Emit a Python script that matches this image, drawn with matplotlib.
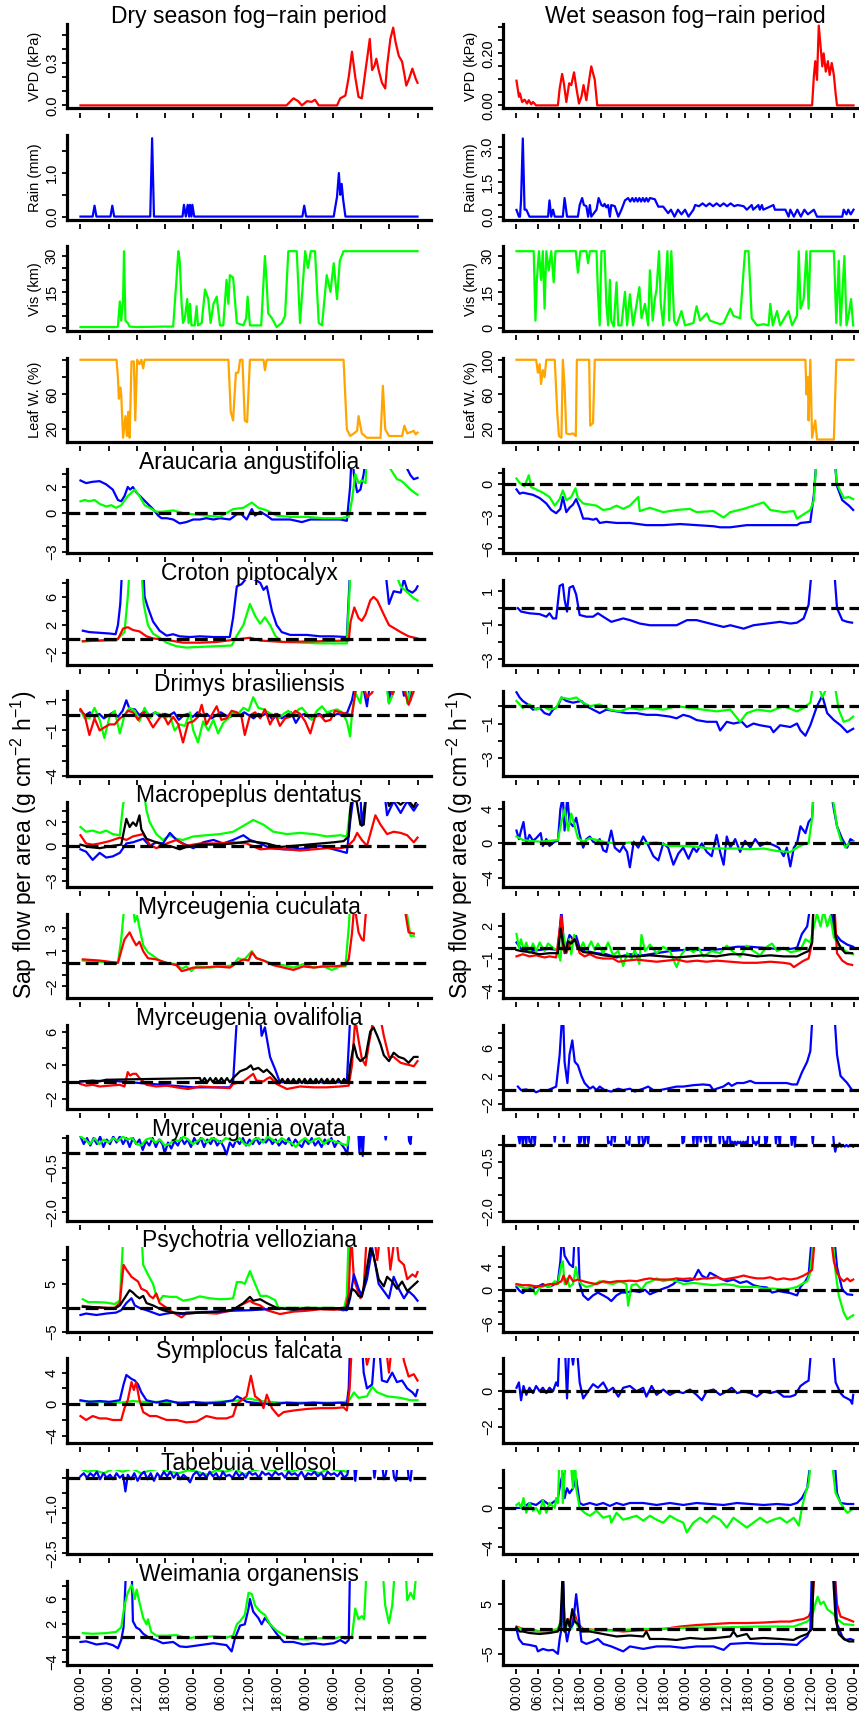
import matplotlib
matplotlib.use('Agg')
import matplotlib.pyplot as plt
import numpy as np

plt.rcParams['font.family'] = ['Liberation Sans', 'DejaVu Sans']
plt.rcParams['mathtext.fontset'] = 'custom'
plt.rcParams['mathtext.rm'] = 'Liberation Sans'
plt.rcParams['mathtext.it'] = 'Liberation Sans:italic'

RED = '#FF0000'
BLUE = '#0000FF'
GREEN = '#00FF00'
BLACK = '#000000'
ORANGE = '#FFA500'

# (hour, value) pairs; dry period spans 72 h, wet period 96 h
dry_vpd = [(0, 0), (44, 0), (45.5, 0.05), (46.5, 0.03), (47.3, 0.0), (48.4, 0.03), (49.4, 0.025), (50.1, 0.04),
           (50.9, 0.0), (54.8, 0.0), (55.5, 0.05), (56.6, 0.07), (57.3, 0.2), (58.0, 0.38), (58.7, 0.2), (59.4, 0.06),
           (60.1, 0.05), (60.9, 0.25), (61.8, 0.47), (62.3, 0.25), (62.8, 0.28), (63.2, 0.33), (63.7, 0.25),
           (64.4, 0.16), (65.1, 0.12), (65.5, 0.28), (66.2, 0.47), (66.8, 0.55), (67.3, 0.45), (68.0, 0.35),
           (68.7, 0.31), (69.2, 0.22), (69.6, 0.14), (70.1, 0.18), (70.9, 0.26), (71.6, 0.19), (72, 0.16)]
dry_rain = [(0, 0), (2.6, 0), (3.0, 0.25), (3.4, 0), (6.4, 0), (6.8, 0.25), (7.2, 0), (14.9, 0), (15.3, 1.8), (15.7, 0),
            (21.8, 0), (22.1, 0.27), (22.5, 0), (22.9, 0.27), (23.2, 0), (23.4, 0.27), (23.7, 0), (23.9, 0.27),
            (24.3, 0), (47.4, 0), (47.8, 0.25), (48.2, 0), (54.1, 0), (54.4, 0.2), (54.8, 0.45), (55.2, 1.0),
            (55.5, 0.5), (55.8, 0.75), (56.1, 0.4), (56.6, 0), (72, 0)]
dry_vis = [(0, 0.3), (7.6, 0.3), (8.0, 0.5), (8.4, 11), (8.7, 3), (9.1, 12), (9.3, 32), (9.6, 3), (10.1, 2), (10.5, 0.5),
           (12, 0.3), (17.6, 0.5), (19.8, 0.5), (20.5, 20), (20.9, 32), (21.2, 28), (21.6, 10), (21.9, 2), (22.3, 4),
           (22.8, 12), (23.1, 2), (23.4, 10), (23.7, 1), (24.4, 1), (24.8, 9), (25.1, 1), (25.9, 2), (26.6, 16),
           (27.3, 12), (27.8, 2), (28.4, 10), (29.1, 13), (29.8, 1), (30.5, 1), (31.2, 20), (31.6, 10), (31.9, 22),
           (32.6, 21), (33.4, 2), (34.8, 1), (35.4, 4), (35.7, 13), (36.2, 1), (38.6, 1), (39.4, 30), (39.8, 18),
           (40.1, 6), (40.9, 4), (41.9, 0.3), (43.0, 2), (43.7, 5), (44.4, 32), (46.2, 32), (46.9, 2), (48.0, 32),
           (48.6, 25), (49.2, 32), (50.1, 32), (50.9, 2), (51.6, 1), (52.6, 22), (53.4, 15), (54.1, 27), (54.8, 12),
           (55.4, 28), (56.2, 32), (72, 32)]
dry_leaf = [(0, 100), (7.7, 100), (8.0, 80), (8.2, 55), (8.5, 68), (8.7, 60), (9.1, 10), (9.6, 35), (9.9, 12), (10.2, 40),
            (10.5, 10), (10.9, 98), (11.4, 98), (11.7, 30), (12.1, 100), (12.6, 95), (13.0, 100), (13.4, 90),
            (13.7, 100), (31.6, 100), (32.1, 40), (32.6, 30), (33.2, 85), (33.7, 85), (34.1, 100), (34.6, 100),
            (35.1, 30), (35.6, 28), (36.2, 100), (39.1, 100), (39.4, 88), (39.8, 100), (56.2, 100), (56.9, 20),
            (57.6, 12), (58.4, 15), (59.1, 18), (59.4, 35), (60.1, 15), (61.2, 10), (64.1, 10), (64.6, 70),
            (65.1, 20), (65.9, 12), (68.7, 12), (69.2, 24), (69.8, 15), (71.2, 18), (71.6, 14), (72, 16)]

wet_vpd = [(0, 0.095), (0.7, 0.033), (1.0, 0.046), (1.6, 0.013), (2.3, 0.022), (3.0, 0.007), (3.5, 0.02), (4.2, 0.004),
           (4.7, 0.013), (5.6, 0), (11.8, 0), (12.3, 0.065), (13.0, 0.121), (13.5, 0.085), (14.2, 0.013), (15.0, 0.085),
           (15.6, 0.078), (16.4, 0.127), (17.0, 0.072), (17.8, 0.007), (18.5, 0.033), (19.1, 0.078), (19.9, 0.02),
           (20.7, 0.098), (21.3, 0.15), (22.3, 0.098), (23.0, 0), (84.2, 0), (84.7, 0.111), (85.1, 0.17),
           (85.6, 0.098), (86.1, 0.307), (86.6, 0.23), (87.1, 0.15), (87.5, 0.2), (88.1, 0.13), (88.7, 0.17),
           (89.2, 0.117), (89.8, 0.163), (90.4, 0.117), (90.9, 0.046), (91.3, 0), (96, 0)]
wet_rain = [(0, 0.29), (0.7, 0), (1.0, 0), (1.3, 0.7), (1.8, 3.36), (2.3, 0.3), (2.8, 0.3), (3.7, 0), (9.0, 0), (9.4, 0.7),
            (9.9, 0), (10.4, 0.3), (10.9, 0), (13.2, 0), (13.7, 0.8), (14.4, 0), (17.5, 0), (18.0, 0.5), (18.7, 0.8),
            (19.2, 0.5), (19.9, 0.45), (20.4, 0), (20.9, 0.5), (21.3, 0), (22.8, 0.3), (23.4, 0.8), (24.2, 0.5),
            (24.7, 0.45), (25.1, 0.55), (25.6, 0.4), (26.1, 0.5), (26.6, 0), (27.0, 0.5), (28.0, 0.45), (29.0, 0),
            (29.9, 0.3), (30.9, 0.7), (31.8, 0.8), (32.4, 0.65), (33, 0.8), (33.5, 0.65), (34, 0.8), (34.5, 0.65),
            (35, 0.8), (35.5, 0.65), (36, 0.8), (36.5, 0.65), (37, 0.8), (37.5, 0.65), (38, 0.8), (39.4, 0.75),
            (40.4, 0.43), (41.8, 0.43), (43.2, 0.15), (44, 0.3), (45, 0), (46, 0.3), (47, 0.1), (48, 0.3), (49, 0),
            (50.4, 0.3), (50.9, 0.5), (52, 0.45), (53, 0.57), (54, 0.45), (55, 0.57), (56, 0.45), (57, 0.57),
            (58, 0.45), (59, 0.57), (60, 0.45), (61, 0.57), (62, 0.45), (63, 0.5), (64.7, 0.45), (65.6, 0.3),
            (67, 0.5), (67.4, 0.3), (68.9, 0.5), (69.3, 0.3), (69.9, 0.5), (70.3, 0.3), (73.2, 0.5), (73.6, 0.3),
            (76.6, 0.3), (77.5, 0), (78, 0.3), (79, 0), (80, 0.3), (81, 0), (82, 0.3), (83, 0.1), (84.7, 0.3),
            (85.6, 0), (92.8, 0), (93.2, 0.3), (94, 0.1), (94.5, 0.3), (95.2, 0.1), (96, 0.3)]
wet_vis = [(0, 32), (4.9, 32), (5.4, 3), (5.8, 20), (6.4, 32), (7.0, 20), (7.5, 32), (8.0, 8), (8.5, 32), (9.2, 24),
           (9.9, 32), (10.6, 19), (11.1, 32), (16.9, 32), (17.5, 23), (18.2, 32), (19.9, 32), (20.4, 27), (20.9, 32),
           (22.8, 32), (23.2, 15), (23.7, 1), (24.2, 32), (25.1, 32), (25.6, 10), (26.1, 1), (26.6, 20), (27.0, 3),
           (27.7, 0.5), (28.5, 19), (29.0, 1), (29.9, 1), (30.9, 15), (31.5, 1), (32.3, 14), (33.2, 1), (34.0, 8),
           (35.0, 17), (35.6, 4), (36.6, 10), (37.5, 1), (38.0, 24), (38.8, 3), (39.4, 12), (39.9, 16), (40.6, 32),
           (41.1, 10), (41.8, 1), (43.0, 32), (43.5, 3), (44.1, 32), (44.9, 3), (45.6, 1), (47.0, 7), (48.0, 1),
           (50.4, 2), (51.3, 9), (52.3, 3), (54.2, 6), (55.1, 3), (58.0, 1.5), (59.0, 2), (60.9, 8), (61.8, 5),
           (63.7, 4), (65.1, 32), (66.1, 32), (67.0, 4), (68.5, 1), (70.4, 1.5), (71.8, 1), (72.3, 10), (73.0, 1),
           (74.2, 7), (75.1, 1), (77.5, 7), (78.5, 1), (79.9, 5), (80.4, 32), (80.9, 8), (81.8, 12), (82.6, 32),
           (83.2, 8), (83.7, 32), (90.4, 32), (91.1, 2), (91.8, 28), (92.3, 1), (93.4, 30), (94.0, 1), (94.7, 6),
           (95.3, 12), (95.9, 1)]
wet_leaf = [(0, 100), (5.6, 100), (6.1, 85), (6.6, 95), (7.0, 72), (7.5, 88), (8.0, 80), (8.5, 100), (10.9, 100),
            (11.6, 40), (12.1, 12), (12.8, 10), (13.2, 100), (13.7, 70), (14.2, 15), (15.1, 14), (16.1, 15),
            (16.9, 12), (17.2, 100), (20.7, 100), (21.0, 24), (21.8, 27), (22.3, 100), (82.3, 100), (82.6, 60),
            (83.0, 80), (83.2, 30), (83.7, 100), (84.2, 10), (85.1, 30), (85.6, 8), (90.4, 8), (91.1, 100), (96, 100)]

# Araucaria angustifolia
dry_arau_blue = [(0, 2.5), (1.2, 2.3), (2.6, 2.4), (4.1, 2.45), (5.5, 2.2), (6.9, 1.8), (8.0, 1.0), (8.7, 0.9), (9.4, 1.3),
                 (10.1, 2.0), (10.6, 1.8), (11.2, 2.0), (11.9, 1.6), (13.0, 1.2), (14.1, 0.8), (15.5, 0.3), (16.6, -0.2),
                 (17.3, -0.4), (18.4, -0.4), (19.8, -0.5), (21.2, -0.8), (22.6, -0.7), (24.1, -0.5), (25.5, -0.5),
                 (26.9, -0.4), (28.4, -0.5), (29.8, -0.4), (31.9, -0.5), (33.4, -0.1), (34.4, -0.1), (35.5, -0.5),
                 (36.6, 0.3), (37.3, -0.2), (38.4, 0.1), (39.8, -0.2), (40.9, -0.5), (42.6, -0.5), (44.8, -0.5),
                 (47.3, -0.7), (49.1, -0.5), (51.2, -0.5), (53.4, -0.5), (55.5, -0.5), (56.9, -0.6), (57.6, 2.0),
                 (58.0, 5), (58.4, 3.0), (59.1, 1.6), (59.8, 1.8), (60.5, 3.0), (61.2, 5), (69.4, 5), (69.8, 3.4),
                 (70.5, 2.9), (71.2, 2.6), (72, 2.7)]
dry_arau_green = [(0, 0.9), (0.9, 1.0), (1.9, 0.9), (3.0, 1.0), (4.1, 0.7), (5.5, 0.5), (6.6, 0.6), (7.6, 0.4), (8.7, 0.6),
                  (10.1, 1.3), (11.6, 1.8), (12.6, 1.3), (13.7, 0.6), (14.8, 0.4), (16.2, 0.1), (17.6, 0.1), (19.8, 0.2),
                  (21.9, 0.0), (24.1, -0.1), (26.9, -0.2), (29.8, -0.3), (32.6, 0.3), (34.8, 0.4), (36.6, 0.8),
                  (38.0, 0.4), (39.8, 0.2), (41.9, -0.2), (44.8, -0.3), (48.4, -0.3), (51.9, -0.4), (55.5, -0.4),
                  (57.3, -0.3), (58.0, 1.0), (58.7, 3.0), (59.4, 2.3), (60.1, 2.5), (60.9, 2.3), (61.2, 5), (66.0, 5),
                  (66.2, 3.4), (67.6, 2.6), (68.4, 2.5), (69.1, 2.3), (70.5, 1.8), (71.6, 1.5), (72, 1.4)]
wet_arau_blue = [(0, -0.5), (0.9, -0.9), (1.8, -0.8), (3.2, -0.9), (4.7, -1.0), (6.6, -1.3), (8.5, -1.8), (9.9, -2.4),
                 (11.3, -2.7), (12.5, -2.3), (13.2, -1.2), (14.2, -2.6), (15.1, -2.2), (16.1, -1.9), (17.0, -1.4),
                 (18.0, -2.2), (19.0, -3.2), (20.4, -3.2), (21.8, -3.3), (22.8, -3.2), (23.7, -3.6), (25.6, -3.5),
                 (28.5, -3.6), (32.3, -3.6), (37.0, -3.8), (41.8, -3.8), (46.6, -3.7), (51.3, -3.8), (56.1, -3.9),
                 (58.0, -4.0), (60.9, -4.0), (65.6, -3.8), (70.4, -3.8), (75.1, -3.8), (79.9, -3.8), (80.9, -3.6),
                 (83.7, -3.5), (84.7, -1.0), (85.6, 3), (90.4, 3), (91.3, -0.2), (92.8, -1.5), (94.7, -2.0), (95.9, -2.4)]
wet_arau_green = [(0, 0.5), (0.9, 0.1), (2.3, -0.2), (3.5, 0.8), (4.2, -0.3), (5.6, -0.5), (7.5, -0.8), (9.4, -1.2),
                  (10.9, -2.0), (12.3, -1.4), (13.2, -0.6), (14.2, -1.5), (15.6, -1.2), (16.8, -0.4), (17.5, -1.3),
                  (19.0, -1.8), (20.9, -1.9), (22.8, -2.0), (24.7, -2.4), (26.6, -2.3), (28.5, -2.0), (30.4, -2.3),
                  (32.3, -2.0), (34.7, -1.2), (35.1, -2.5), (38.0, -2.2), (41.8, -2.6), (45.6, -2.4), (49.4, -2.3),
                  (51.3, -2.6), (56.1, -2.5), (59.0, -3.1), (60.9, -2.6), (64.7, -2.3), (70.4, -1.7), (72.3, -2.4),
                  (76.1, -2.6), (79.0, -2.5), (79.9, -3.2), (81.8, -2.8), (83.7, -2.4), (84.7, -1.5), (85.6, 3),
                  (90.4, 3), (91.3, 0.0), (93.2, -1.3), (94.7, -1.2), (95.9, -1.4)]

# Croton piptocalyx
dry_crot_blue = [(0.5, 1.2), (1.9, 1.0), (4.1, 0.9), (6.2, 0.8), (7.5, 0.7), (8.0, 2), (8.5, 5), (8.9, 10), (13.4, 10),
                 (13.7, 6), (14.4, 4.5), (15.5, 2.5), (16.9, 1.2), (18.4, 0.5), (19.8, 0.7), (21.2, 0.4), (23.4, 0.3),
                 (25.5, 0.4), (28.4, 0.3), (31.9, 0.3), (32.6, 3), (33.4, 7.5), (34.4, 7.8), (35.9, 9), (38.4, 8),
                 (39.1, 7), (39.8, 7.5), (40.9, 4), (41.9, 2), (43.0, 1), (44.8, 0.6), (48.4, 0.6), (51.2, 0.4),
                 (53.9, 0.4), (56.9, 0.3), (57.6, 10), (65.1, 10), (65.9, 5), (66.9, 6.8), (68.4, 6.6), (69.1, 8.5),
                 (69.8, 7), (70.9, 6.6), (71.6, 7), (72, 7.5)]
dry_crot_green = [(0.5, -0.3), (4.1, -0.2), (7.6, -0.2), (9.4, 1.0), (10.1, 6), (10.5, 10), (13.0, 10), (13.5, 5),
                  (14.4, 2.0), (15.5, 0.8), (16.9, 0.2), (18.4, -0.5), (20.5, -1.0), (22.6, -1.2), (25.5, -1.1),
                  (29.1, -1.0), (32.3, -0.9), (33.4, 0.5), (34.8, 2.0), (36.2, 5.0), (37.3, 3.3), (38.4, 2.2),
                  (39.4, 3.1), (40.5, 2.0), (41.6, 0.5), (43.0, -0.4), (46.9, -0.5), (51.2, -0.6), (56.9, -0.6),
                  (57.7, 10), (66.9, 10), (68.4, 7.5), (70.1, 6.5), (71.2, 5.8), (72, 5.5)]
dry_crot_red = [(0.5, -0.3), (4.1, -0.2), (8.0, 0), (9.1, 1.5), (10.1, 1.7), (11.2, 1.3), (12.6, 1.1), (14.1, 0.4),
                (15.5, 0.1), (18.4, -0.1), (21.9, -0.5), (25.5, -0.5), (29.1, -0.4), (32.6, -0.1), (36.2, 0.2),
                (38.4, -0.2), (43.4, -0.4), (50.5, -0.3), (57.3, -0.2), (57.7, 2.5), (58.5, 4.5), (59.4, 3.0),
                (60.1, 2.6), (60.9, 3.5), (61.9, 5.5), (62.6, 6.0), (63.4, 5.5), (64.8, 3.5), (65.9, 2.0), (66.9, 1.6),
                (68.4, 1.0), (70.1, 0.4), (72, 0.1)]
wet_crot_blue = [(0.4, 0), (1.3, -0.2), (3.7, -0.3), (6.6, -0.35), (8.5, -0.5), (9.4, -0.3), (10.4, -0.6), (11.3, -0.6),
                 (12.3, 1.3), (13.2, 1.4), (13.7, 0.5), (14.4, -0.2), (15.1, 1.2), (16.1, 1.3), (17.0, 0.8),
                 (18.0, -0.4), (19.9, -0.5), (21.8, -0.5), (23.2, -0.3), (24.7, -0.5), (27.0, -0.8), (30.4, -0.6),
                 (32.3, -0.7), (35.1, -0.9), (38.0, -1.0), (41.8, -1.0), (45.6, -1.0), (48.6, -0.7), (51.3, -0.7),
                 (55.1, -0.9), (59.0, -1.1), (60.9, -1.0), (64.7, -1.2), (67.5, -1.0), (71.3, -0.9), (75.1, -0.8),
                 (78.0, -0.9), (79.9, -0.85), (81.8, -0.6), (83.2, 0.2), (84.2, 2.5), (90.4, 2.5), (91.3, 0.0),
                 (92.8, -0.7), (94.2, -0.8), (95.6, -0.85)]

# Drimys brasiliensis
dry_drim_blue = [(0, 0.3), (1, 0.0), (2, 0.2), (3, -0.1), (4, 0.1), (5, -0.2), (6, 0.0), (7, 0.2), (8, -0.1), (9, 0.3),
                 (9.8, 1.0), (10.5, 0.4), (11.6, 0.4), (12.6, 0.0), (13.7, 0.3), (14.8, 0.0), (16, 0.2), (17, -0.1),
                 (18, 0.1), (19, 0.0), (20, 0.2), (21, -0.3), (22, 0.0), (23, 0.1), (24, -0.1), (25, 0.2), (26, 0.0),
                 (27, 0.1), (28, -0.2), (29, 0.0), (30, 0.2), (31, 0.0), (32, -0.1), (33, 0.1), (34, 0.0), (35, 0.2),
                 (36, 0.0), (37, -0.2), (38, 0.1), (39, 0.0), (40, 0.2), (41, -0.3), (42, 0.1), (43, -0.2), (44, 0.0),
                 (45, 0.2), (46, -0.5), (47, 0.0), (48, 0.1), (49, -0.2), (50, 0.0), (51, 0.1), (52, -0.1), (53, 0.2),
                 (54, 0.0), (55, 0.1), (56, 0.0), (57, 0.2), (58, 1.0), (59, 2.5), (60, 2.5), (61.2, 0.6), (62, 2.5),
                 (65.5, 2.5), (65.9, 0.8), (66.5, 2.5), (68.5, 2.5), (69.1, 1.3), (69.8, 2.5), (70.5, 1.0), (71, 2.5),
                 (72, 2.5)]
dry_drim_green = [(0, 0.4), (0.9, -0.2), (1.9, -0.2), (3.0, 0.5), (4.1, -0.3), (5.1, -1.5), (6.2, -0.1), (7.3, 0.3),
                  (8.4, -1.2), (9.4, 0.0), (10.5, 0.5), (11.6, 0.3), (12.6, -0.4), (13.7, 0.5), (14.8, -0.2),
                  (15.9, 0.2), (16.9, 0.1), (18.0, -0.2), (19.1, 0.0), (20.1, -1.0), (21.2, -0.6), (22.3, -0.7),
                  (23.4, 0.2), (24.1, -1.0), (25.1, -1.8), (26.2, -0.4), (27.3, -1.0), (28.4, -0.3), (29.4, -1.2),
                  (30.5, -0.5), (31.6, -0.2), (32.6, 0.2), (33.7, 0.1), (34.8, 0.5), (35.9, 0.3), (36.9, 1.2),
                  (38.0, 0.5), (39.1, 0.4), (40.1, 0.2), (41.2, 0.0), (42.3, -0.2), (43.4, 0.1), (44.4, 0.3),
                  (45.5, 0.0), (46.6, 0.4), (47.3, 0.5), (48.4, 0.1), (49.4, -0.3), (50.5, 0.3), (51.6, 0.6),
                  (52.6, 0.2), (53.7, 0.3), (54.8, 0.4), (55.9, 0.2), (56.9, -0.4), (57.6, -1.4), (58.0, 0.1),
                  (58.7, 1.5), (59.8, 0.8), (60.5, 2.5), (65.1, 2.5), (65.9, 0.8), (66.9, 1.5), (67.5, 2.5), (69.4, 2.5),
                  (69.8, 0.8), (71.2, 2.5), (72, 2.5)]
dry_drim_red = [(0, 0.4), (0.9, 0.0), (1.9, -1.3), (3.0, -0.2), (4.1, -1.0), (5.1, -0.8), (6.2, -0.6), (7.3, -0.6),
                (8.4, -0.2), (9.4, 0.0), (10.1, 0.3), (11.2, 0.2), (12.3, -0.3), (13.4, 0.2), (14.4, -0.2),
                (15.5, -0.8), (16.6, -0.3), (17.6, 0.1), (18.7, -0.6), (19.8, -0.1), (20.9, -0.6), (21.9, -1.8),
                (23.0, -0.5), (24.1, -0.4), (25.1, -0.1), (25.9, 0.7), (26.9, -0.6), (28.0, 0.0), (29.1, 0.6),
                (30.1, -0.3), (31.2, -0.2), (32.3, 0.3), (33.4, 0.2), (34.4, -0.1), (35.1, -1.3), (36.2, 0.0),
                (37.3, 0.2), (38.4, -0.2), (39.4, 0.4), (40.5, -0.6), (41.6, 0.1), (42.6, -0.7), (43.7, -0.2),
                (44.8, -0.1), (45.9, 0.3), (46.9, 0.1), (48.0, -0.4), (49.1, -1.2), (50.1, -0.1), (51.2, 0.0),
                (52.3, -0.4), (53.4, -0.3), (54.4, 0.3), (55.5, 0.2), (56.9, 0.1), (58.0, 0.0), (58.7, 1.5),
                (59.8, 2.5), (61.2, 1.2), (62.3, 1.5), (63.4, 2.5), (65.5, 2.5), (66.6, 1.4), (68.4, 2.5), (70.1, 0.7),
                (71.2, 1.6), (72, 2.5)]
wet_drim_blue = [(0, 0.8), (0.9, 0.5), (1.8, 0.3), (3.2, 0.1), (4.7, -0.2), (6.6, -0.1), (8.0, -0.4), (9.4, -0.5),
                 (10.4, -0.2), (11.8, 0.0), (12.8, 0.5), (14.2, 0.3), (16.1, 0.2), (18.5, 0.3), (19.9, 0.0),
                 (21.8, -0.2), (23.7, -0.4), (25.6, -0.2), (28.5, -0.3), (31.3, -0.4), (34.2, -0.4), (37.0, -0.5),
                 (39.9, -0.5), (43.7, -0.6), (45.6, -0.7), (47.5, -0.5), (49.4, -0.6), (51.3, -0.8), (54.2, -0.9),
                 (57.0, -0.9), (58.0, -1.4), (59.9, -0.9), (61.8, -1.0), (64.2, -0.9), (65.6, -1.2), (67.5, -1.0),
                 (69.4, -1.1), (72.3, -1.2), (73.2, -1.5), (75.1, -1.1), (78.0, -1.2), (79.9, -1.0), (80.9, -1.4),
                 (82.3, -1.7), (83.7, -1.1), (85.6, 0.0), (87.1, 0.6), (88.5, -0.4), (90.4, -0.8), (92.3, -1.1),
                 (94.2, -1.5), (95.9, -1.3)]
wet_drim_green = [(0, 0.3), (1.8, -0.1), (3.7, 0.1), (5.6, -0.2), (7.5, 0.0), (9.4, -0.2), (11.3, -0.1), (12.8, 0.5),
                  (15.1, 0.4), (17.0, 0.5), (19.0, 0.2), (20.9, 0.0), (23.7, 0.1), (26.6, -0.2), (29.4, -0.3),
                  (32.3, -0.1), (35.1, -0.2), (38.0, -0.1), (41.8, -0.2), (45.6, 0.0), (49.4, -0.1), (53.2, -0.2),
                  (57.0, -0.3), (60.9, -0.2), (63.7, -0.9), (65.6, -0.4), (68.5, -0.2), (72.3, -0.3), (76.1, 0.0),
                  (79.9, -0.3), (81.8, -0.1), (83.7, 0.2), (84.7, 1.5), (85.6, 1.5), (87.1, 0.5), (89.4, 1.5),
                  (90.4, 1.5), (91.8, -0.2), (93.2, -0.9), (94.7, -0.8), (95.9, -0.6)]

# Macropeplus dentatus
dry_macr_green = [(0, 1.6), (1.2, 1.2), (2.6, 1.3), (4.1, 1.1), (5.5, 1.3), (6.9, 1.0), (8.4, 0.9), (9.1, 3.5), (9.8, 5),
                  (13.4, 5), (14.1, 3.0), (14.8, 2.0), (16.2, 1.0), (17.6, 0.5), (19.1, 0.9), (20.5, 0.6), (21.9, 0.5),
                  (24.1, 0.8), (26.9, 0.9), (29.8, 1.0), (32.6, 1.2), (34.8, 1.7), (36.9, 2.2), (39.1, 1.8),
                  (41.2, 1.2), (44.1, 1.0), (46.9, 1.1), (49.8, 1.0), (52.6, 0.8), (55.5, 0.9), (56.9, 0.8),
                  (57.6, 3.0), (58.0, 5), (72, 5)]
dry_macr_blue = [(0, -0.3), (1.2, -0.5), (2.6, -1.2), (4.1, -0.6), (5.5, -1.0), (6.9, -0.9), (8.4, -0.6), (9.8, 0.2),
                 (11.2, 0.3), (13.4, 0.6), (14.8, 0.0), (16.2, 0.3), (17.6, 0.2), (19.1, 1.1), (20.5, 0.5),
                 (21.9, 0.2), (24.1, -0.2), (26.2, 0.3), (28.4, 0.5), (30.5, 0.2), (32.6, 0.5), (34.8, 0.9),
                 (36.2, 0.5), (38.4, 0.2), (40.5, -0.2), (43.4, -0.3), (45.5, -0.3), (48.4, -0.2), (51.2, 0.0),
                 (54.1, -0.3), (56.9, -0.6), (57.6, 2), (58.4, 4.5), (59.8, 4.5), (60.1, 1.7), (61.2, 5), (64.8, 5),
                 (65.5, 2.6), (66.9, 3.8), (68.4, 2.8), (69.8, 3.8), (71.2, 3.0), (72, 3.5)]
dry_macr_red = [(0, 0.9), (1.2, 0.2), (2.6, 0.1), (4.1, 0.2), (6.2, 0.4), (8.4, 0.7), (9.8, 0.5), (11.2, 0.8), (13.4, 1.0),
                (14.8, 0.1), (16.2, -0.2), (18.4, 0.2), (20.5, 0.5), (22.6, 0.0), (25.5, 0.2), (29.1, 0.2),
                (32.6, 0.3), (35.5, 0.2), (38.4, -0.3), (41.2, -0.2), (44.1, -0.3), (46.9, -0.4), (49.8, -0.3),
                (52.6, -0.2), (55.5, -0.2), (56.9, -0.1), (58.4, 0.5), (59.1, 1.1), (60.1, 0.5), (61.2, 0.0),
                (61.9, 1.0), (63.0, 2.6), (64.1, 1.8), (65.5, 1.0), (66.9, 1.2), (68.4, 1.1), (69.8, 0.9),
                (71.2, 0.3), (72, 0.7)]
dry_macr_black = [(0, 0.1), (1.9, -0.1), (4.1, -0.2), (6.9, 0.0), (8.7, 0.1), (9.8, 2.3), (10.5, 1.6), (11.2, 2.0),
                  (11.9, 1.7), (12.6, 2.6), (13.0, 1.4), (14.1, 0.6), (15.5, 0.4), (17.6, 0.1), (19.8, -0.1),
                  (21.2, -0.3), (22.6, -0.1), (25.5, 0.1), (29.1, 0.1), (32.6, 0.2), (36.2, 0.4), (39.8, 0.2),
                  (42.6, -0.1), (45.5, 0.0), (48.4, 0.1), (51.2, 0.2), (54.1, 0.3), (56.2, 0.4), (57.3, 0.8),
                  (57.6, 3), (58.4, 5), (59.1, 3.5), (59.8, 1.8), (60.5, 1.8), (61.2, 5), (65.1, 5), (65.9, 3.4),
                  (66.9, 4), (68.4, 3.5), (69.8, 4), (71.2, 3.3), (72, 4)]
wet_macr_blue = [(0, 1.5), (0.7, 0.5), (1.3, 1.5), (2.0, 2.5), (2.8, 0.0), (3.7, 1.0), (4.7, 0.3), (5.6, 0.6), (6.9, 1.2),
                 (7.5, -0.3), (8.5, 0.5), (9.4, -0.3), (10.9, 0.2), (11.8, 0.3), (12.5, 4), (13.2, 5.5), (13.7, 1.5),
                 (14.5, 5.5), (15.1, 2.5), (16.1, 2.0), (17.0, 3.0), (18.0, 1.0), (19.0, -0.5), (19.9, 0.5), (20.9, 0.8),
                 (21.8, 0.2), (22.8, 0.0), (23.7, 0.5), (24.7, -0.8), (25.6, -1.0), (27.0, 1.5), (28.0, -0.5),
                 (29.4, -1.0), (30.4, -0.3), (31.5, -1.0), (32.3, -2.8), (33.4, 0.2), (34.7, -0.5), (36.1, 0.8),
                 (37.5, -0.2), (39.0, -1.5), (40.4, -2.0), (41.8, 0.0), (43.2, -0.5), (44.7, -2.5), (46.1, -1.2),
                 (47.5, -0.5), (49.0, -1.8), (50.4, -0.5), (51.3, -1.0), (52.8, 0.0), (54.2, -1.0), (55.6, -1.5),
                 (57.0, 1.0), (58.0, -1.0), (59.0, -2.5), (59.9, 0.8), (60.9, -0.5), (62.3, 0.5), (63.7, -1.0),
                 (65.1, 0.3), (66.6, -0.5), (68.0, 0.5), (69.4, -0.3), (71.3, 0.1), (73.2, -0.2), (74.7, -0.5),
                 (76.1, -1.5), (77.0, -0.5), (78.0, -2.7), (79.0, -0.5), (79.9, 0.0), (80.9, 2.0), (82.3, 1.2),
                 (83.2, 2.5), (84.2, 3.0), (84.7, 6.5), (89.4, 6.5), (90.4, 4.0), (91.3, 2.0), (92.8, 0.5),
                 (94.2, -0.5), (95.1, 0.5), (95.9, 0.3)]
wet_macr_green = [(0, 0.8), (1.8, 0.4), (3.7, 0.3), (6.6, 0.2), (9.4, 0.3), (11.8, 0.4), (12.8, 2.5), (13.7, 4.0),
                  (14.7, 1.5), (15.6, 3.5), (16.6, 2.0), (17.5, 0.6), (19.0, 0.2), (20.9, 0.6), (22.8, 0.4),
                  (25.6, 0.1), (29.4, 0.0), (32.3, 0.1), (36.1, 0.0), (39.9, 0.1), (43.7, -0.3), (47.5, -0.3),
                  (51.3, -0.4), (55.1, -0.6), (59.0, -0.6), (62.8, -0.6), (66.6, -0.7), (70.4, -0.6), (74.2, -0.9),
                  (78.0, -1.0), (79.9, -0.5), (81.8, -0.1), (83.2, 0.0), (84.2, 3.0), (84.7, 6.5), (89.4, 6.5),
                  (90.4, 4.5), (91.3, 2.0), (92.3, 0.5), (93.7, -0.5), (94.7, 0.0), (95.9, 0.2)]

# Myrceugenia cuculata
dry_cucu_green = [(0.5, 0.2), (4.1, 0.1), (8.0, 0.0), (8.7, 2.0), (9.4, 5), (11.2, 5), (11.6, 3.5), (12.1, 4.0),
                  (12.6, 3.0), (13.4, 1.5), (14.4, 0.9), (15.5, 0.6), (16.9, 0.2), (18.4, 0.0), (20.5, -0.1),
                  (21.6, -0.5), (22.6, -0.3), (23.7, -0.7), (24.8, -0.3), (27.6, -0.4), (30.5, -0.3), (32.6, -0.2),
                  (33.7, 0.4), (34.8, 0.2), (36.6, 1.0), (37.6, 0.4), (39.1, 0.2), (41.2, -0.1), (43.4, -0.2),
                  (45.5, -0.4), (47.6, -0.1), (49.8, -0.4), (51.9, -0.3), (53.7, -0.6), (55.5, -0.3), (56.6, -0.3),
                  (57.3, 3.0), (57.6, 5), (69.4, 5), (70.5, 2.3), (71.2, 2.3)]
dry_cucu_red = [(0.5, 0.3), (4.1, 0.2), (8.0, 0.0), (8.7, 1.0), (9.4, 2.0), (10.5, 2.6), (11.2, 2.0), (11.9, 1.5),
                (12.6, 1.8), (13.4, 1.0), (14.4, 0.4), (16.2, 0.3), (18.4, 0.0), (20.5, -0.2), (21.6, -0.7),
                (22.6, -0.6), (24.1, -0.4), (26.2, -0.4), (29.1, -0.3), (31.9, -0.4), (33.4, 0.0), (34.8, 0.3),
                (35.9, 0.2), (36.6, 0.9), (37.6, 0.4), (39.1, 0.2), (41.2, -0.2), (43.4, -0.4), (45.5, -0.6),
                (47.6, -0.3), (49.8, -0.4), (51.9, -0.3), (54.1, -0.3), (56.6, -0.2), (57.3, 0.3), (58.0, 2.5),
                (58.4, 4.5), (58.7, 4.5), (59.4, 2.6), (60.1, 2.0), (60.5, 1.9), (60.9, 4.0), (61.2, 5), (69.1, 5),
                (70.1, 2.6), (71.2, 2.5)]
wet_cucu_blue = [(0, 0.5), (1.3, -0.1), (3.7, -0.3), (6.6, -0.2), (9.4, -0.1), (11.8, -0.2), (12.8, 3.5), (13.7, -0.5),
                 (15.1, 1.2), (16.1, 0.8), (17.0, 1.1), (18.0, 0.0), (19.9, -0.3), (22.8, -0.5), (25.6, -0.6),
                 (28.5, -0.9), (32.3, -0.6), (36.1, -0.7), (39.9, -0.5), (43.7, -0.3), (47.5, -0.2), (51.3, -0.2),
                 (55.1, -0.2), (59.0, -0.1), (62.8, 0.1), (66.6, 0.1), (70.4, 0.0), (74.2, -0.1), (78.0, -0.1),
                 (79.9, 0.0), (81.3, 1.3), (82.8, 2.0), (84.2, 5), (89.0, 5), (90.4, 1.5), (92.3, 0.7),
                 (94.2, 0.3), (95.9, 0.1)]
wet_cucu_green = [(0, 1.3), (0.7, 0.0), (1.3, 0.8), (2.0, -0.3), (2.8, 0.5), (3.7, -0.5), (4.7, 0.4), (5.6, -0.3),
                  (6.6, 0.5), (8.0, -0.3), (9.0, 0.4), (10.4, 0.0), (11.8, -0.3), (12.5, -1.2), (13.2, 1.5),
                  (14.2, -0.2), (15.0, 0.8), (15.6, -0.6), (16.4, 1.2), (17.0, 0.2), (18.0, -0.2), (19.0, 0.5),
                  (19.9, -0.3), (21.3, 0.6), (22.3, -0.2), (23.2, 0.4), (24.7, -0.5), (26.1, 0.5), (27.5, -0.7),
                  (29.0, -0.3), (30.4, -1.7), (31.5, -0.5), (32.8, -1.0), (33.7, -0.2), (35.0, -1.5), (35.6, 1.2),
                  (36.6, -0.3), (38.0, 0.3), (39.9, -0.5), (41.8, 0.1), (43.7, -0.3), (45.6, -1.8), (47.0, -0.6),
                  (48.5, 0.0), (50.4, -0.4), (51.8, 0.0), (53.2, -0.8), (55.6, -0.3), (58.0, -0.5), (59.9, 0.2),
                  (61.8, -0.4), (63.7, -0.8), (65.6, 0.2), (67.5, -0.3), (69.4, -0.7), (71.3, 0.1), (72.8, 0.4),
                  (74.2, -0.3), (76.1, 0.0), (78.0, -0.4), (79.9, -0.3), (80.9, -0.2), (82.3, 0.8), (83.7, 0.5),
                  (84.7, 2.0), (85.6, 3.2), (86.6, 2.0), (87.5, 3.5), (88.5, 2.0), (89.4, 3.0), (90.4, 1.0),
                  (91.8, 0.3), (93.7, -0.3), (95.9, -0.6)]
wet_cucu_red = [(0, -0.8), (1.8, -0.6), (3.7, -0.8), (5.6, -0.7), (8.0, -0.9), (9.4, -0.8), (11.3, -0.9), (12.8, 3.0),
                (13.4, -0.2), (14.2, -0.5), (15.1, 0.3), (16.1, 0.8), (17.0, 0.6), (18.0, -0.5), (19.4, -0.8),
                (20.9, -0.6), (22.8, -0.9), (24.7, -1.0), (27.5, -1.0), (29.0, -1.3), (31.3, -1.2), (34.2, -1.1),
                (37.0, -1.2), (39.9, -1.3), (42.8, -1.2), (45.6, -1.1), (48.5, -1.3), (51.3, -1.2), (54.2, -1.3),
                (57.0, -1.2), (60.9, -1.3), (64.7, -1.4), (68.5, -1.4), (72.3, -1.3), (76.1, -1.4), (78.0, -1.5),
                (79.0, -1.8), (80.4, -1.5), (81.8, -1.2), (83.2, -1.0), (84.2, 0.5), (84.7, 5), (90.4, 5),
                (91.3, -0.5), (92.8, -1.2), (94.2, -1.5), (95.6, -1.6)]
wet_cucu_black = [(0, -0.2), (1.3, -0.3), (3.7, -0.4), (6.6, -0.6), (9.4, -0.5), (11.8, -0.5), (12.6, 1.8), (13.2, 0.5),
                  (14.0, -0.4), (14.7, 0.6), (15.6, 0.4), (16.6, 0.8), (17.5, 0.0), (19.0, -0.4), (21.8, -0.5),
                  (24.7, -0.7), (27.5, -0.8), (30.4, -0.8), (34.2, -0.8), (38.0, -0.7), (41.8, -0.8), (45.6, -0.9),
                  (49.4, -0.8), (53.2, -0.7), (57.0, -0.8), (60.9, -0.6), (64.7, -0.6), (68.5, -0.8), (72.3, -0.7),
                  (76.1, -0.8), (79.9, -0.8), (81.8, -0.5), (83.2, -0.3), (84.2, 0.5), (84.7, 5), (89.9, 5),
                  (90.9, 1.0), (92.3, 0.0), (93.7, -0.5), (95.6, -0.5)]

# Myrceugenia ovalifolia
dry_oval_blue = [(0, 0.1), (6.2, 0.2), (24.1, -0.6), (31.9, -0.6), (32.6, 0.0), (33.4, 7.5), (38.4, 7.5), (38.7, 5.5),
                 (39.4, 6.5), (40.5, 3.0), (41.6, 1.5), (42.6, 0.0), (56.9, 0.0), (57.6, 7.5), (72, 7.5)]
dry_oval_red = [(0, -0.2), (1.2, -0.4), (2.6, -0.3), (4.1, -0.5), (6.2, -0.4), (8.4, -0.3), (9.4, -0.5), (10.1, 1.2),
                (10.6, 0.8), (11.2, 1.0), (11.9, 1.0), (12.6, 0.5), (13.4, 0.1), (14.1, -0.3), (16.2, -0.5),
                (18.4, -0.4), (20.5, -0.6), (23.0, -0.8), (25.5, -0.5), (29.1, -0.6), (31.9, -0.7), (32.6, -0.2),
                (34.8, 0.1), (36.9, 1.0), (37.6, 0.2), (39.1, 0.1), (39.8, 0.4), (40.5, 0.6), (41.9, -0.2),
                (44.1, -0.8), (46.9, -0.5), (49.8, -0.6), (52.6, -0.6), (55.5, -0.5), (57.3, -0.4), (58.0, 2.0),
                (58.7, 7.5), (59.4, 5), (60.1, 2.8), (60.9, 2.0), (61.6, 4.5), (62.6, 7.5), (64.1, 7.5), (64.8, 5.5),
                (65.9, 3.0), (66.9, 3.0), (68.4, 2.3), (69.8, 2.1), (71.2, 1.9), (72, 2.5)]
dry_oval_black = [(0, 0.1), (2.6, 0.2), (4.1, 0.1), (5.5, 0.3), (6.2, 0.3), (25.5, 0.5), (25.9, 0.0), (26.5, 0.5),
                  (27.1, 0.0), (27.7, 0.5), (28.3, 0.0), (28.9, 0.5), (29.5, 0.0), (30.1, 0.5), (30.7, 0.0),
                  (31.3, 0.5), (31.9, 0.0), (32.6, 0.5), (34.1, 1.3), (35.5, 1.6), (36.4, 2.0), (36.9, 1.5),
                  (38.0, 1.7), (39.1, 1.2), (39.8, 1.5), (40.9, 0.9), (41.9, 0.2), (42.5, -0.1), (43.1, 0.4),
                  (43.7, -0.1), (44.3, 0.4), (44.9, -0.1), (45.5, 0.4), (46.1, -0.1), (46.7, 0.4), (47.3, -0.1),
                  (47.9, 0.4), (48.5, -0.1), (49.1, 0.4), (49.7, -0.1), (50.3, 0.4), (50.9, -0.1), (51.5, 0.4),
                  (52.1, -0.1), (52.7, 0.4), (53.3, -0.1), (53.9, 0.4), (54.5, -0.1), (55.1, 0.4), (55.7, -0.1),
                  (56.3, 0.4), (56.9, 0.0), (57.3, 0.2), (57.6, 2), (58.4, 4.5), (59.1, 3.0), (59.8, 2.5),
                  (60.9, 3.0), (61.9, 6.0), (62.6, 6.5), (63.4, 5.5), (64.1, 4.5), (64.8, 3.2), (65.9, 2.5),
                  (66.9, 3.5), (68.0, 3.0), (69.1, 2.8), (70.1, 2.3), (71.2, 3.0), (72, 3.0)]
wet_oval_blue = [(0.4, 0.5), (1.3, 0.0), (2.8, 0.1), (3.7, -0.1), (4.7, 0.0), (5.6, -0.3), (7.0, 0.0), (8.5, -0.1),
                 (10.4, 0.3), (11.3, 0.5), (12.3, 5), (13.2, 12), (13.7, 4.0), (14.5, 1.0), (15.1, 5.0), (15.9, 7.0),
                 (16.6, 4.0), (17.5, 3.5), (18.5, 2.0), (19.4, 1.0), (20.9, 0.2), (21.8, 0.5), (22.8, 0.0),
                 (23.7, 0.5), (25.1, 0.0), (27.0, -0.2), (29.0, 0.2), (30.4, 0.0), (32.3, 0.2), (33.7, -0.2),
                 (36.1, 0.2), (37.5, 0.5), (39.0, 0.0), (40.9, 0.0), (43.7, 0.3), (45.6, 0.5), (47.5, 0.5),
                 (50.4, 0.7), (53.2, 0.8), (55.1, 0.7), (56.1, 0.0), (57.0, 0.2), (58.9, 0.5), (60.4, 1.0),
                 (61.3, 0.6), (62.8, 1.0), (64.7, 1.0), (66.6, 1.3), (68.0, 1.0), (69.4, 1.0), (72.3, 1.0),
                 (75.1, 1.0), (77.0, 1.0), (78.5, 0.8), (79.9, 0.8), (81.3, 2.5), (82.8, 4.0), (83.7, 5.5),
                 (84.5, 12), (90.4, 12), (91.3, 5.0), (92.3, 2.0), (94.2, 1.0), (95.6, 0.0)]

# Myrceugenia ovata
dry_ovat_blue = [(0, 0.55), (0.7, 0.3), (1.4, 0.5), (2.1, 0.25), (2.8, 0.5), (3.5, 0.3), (4.2, 0.55), (4.9, 0.2),
                 (5.6, 0.45), (6.3, 0.3), (7.0, 0.55), (7.7, 0.35), (8.4, 0.55), (9.1, 0.3), (9.8, 0.5), (10.5, 0.2),
                 (11.2, 0.5), (11.9, 0.3), (12.6, 0.45), (13.3, 0.1), (14.0, 0.4), (14.7, 0.25), (15.4, 0.5),
                 (16.1, 0.2), (16.8, 0.45), (17.5, 0.3), (18.0, 0.0), (18.7, 0.35), (19.4, 0.15), (20.1, 0.4),
                 (20.8, 0.25), (21.5, 0.5), (22.2, 0.3), (22.9, 0.45), (23.6, 0.2), (24.3, 0.5), (25.0, 0.3),
                 (25.7, 0.5), (26.4, 0.2), (27.1, 0.45), (27.8, 0.3), (28.5, 0.5), (29.2, 0.25), (29.9, 0.4),
                 (30.6, 0.2), (31.2, -0.05), (31.9, 0.35), (32.6, 0.2), (33.3, 0.45), (34.0, 0.3), (34.7, 0.5),
                 (35.4, 0.25), (36.1, 0.45), (36.8, 0.3), (37.5, 0.5), (38.2, 0.3), (38.9, 0.45), (39.6, 0.35),
                 (40.3, 0.5), (41.0, 0.3), (41.7, 0.45), (42.4, 0.25), (43.1, 0.4), (43.8, 0.3), (44.5, 0.5),
                 (45.2, 0.25), (45.9, 0.45), (46.6, 0.3), (47.3, 0.2), (48.0, 0.45), (48.7, 0.3), (49.4, 0.5),
                 (50.1, 0.25), (50.8, 0.4), (51.5, 0.2), (52.2, 0.45), (52.9, 0.3), (53.6, 0.5), (54.3, 0.2),
                 (55.0, 0.4), (55.7, 0.3), (56.4, 0.15), (57.0, -0.05), (57.4, 0.8), (59.3, 0.8), (59.6, 0.0),
                 (59.9, 0.8), (60.3, -0.1), (60.6, 0.8), (64.9, 0.8), (65.2, 0.45), (65.5, 0.8), (70.0, 0.8),
                 (70.2, 0.4), (70.5, 0.3), (70.8, 0.8), (72, 0.8)]
dry_ovat_green = [(0, 0.55), (1, 0.45), (2, 0.3), (3, 0.5), (4, 0.3), (5, 0.45), (6, 0.35), (7, 0.5), (8, 0.4), (9, 0.55),
                  (10, 0.45), (11, 0.5), (12, 0.3), (13, 0.25), (14, 0.45), (15, 0.5), (16, 0.35), (17, 0.45),
                  (18, 0.25), (19, 0.3), (20, 0.45), (21, 0.4), (22, 0.55), (23, 0.45), (24, 0.3), (25, 0.4),
                  (26, 0.5), (27, 0.35), (28, 0.5), (29, 0.45), (30, 0.35), (31, 0.5), (32, 0.45), (33, 0.4),
                  (34, 0.5), (35, 0.3), (36, 0.25), (37, 0.45), (38, 0.5), (39, 0.35), (40, 0.55), (41, 0.45),
                  (42, 0.35), (43, 0.5), (44, 0.4), (45, 0.35), (46, 0.2), (47, 0.4), (48, 0.5), (49, 0.35),
                  (50, 0.45), (51, 0.5), (52, 0.3), (53, 0.45), (54, 0.4), (55, 0.35), (56, 0.3), (57, 0.25),
                  (57.4, 0.8), (72, 0.8)]
wet_ovat_blue = [(0, 0.6), (0.9, 0.05), (1.3, 0.6), (1.8, 0.0), (2.3, 0.5), (2.8, 0.05), (3.2, 0.6), (3.7, 0.1),
                 (4.2, 0.05), (4.7, 0.6), (5.2, 0.0), (5.6, 0.6), (10.5, 0.6), (10.9, 0.1), (11.3, 0.6), (13.2, 0.6),
                 (13.5, 0.1), (13.8, 0.6), (17.5, 0.6), (17.9, 0.05), (18.3, 0.1), (18.7, 0.6), (19.4, 0.0),
                 (19.8, 0.6), (20.5, 0.05), (20.9, 0.6), (25.8, 0.6), (26.1, 0.05), (26.6, 0.1), (27.0, 0.0),
                 (27.4, 0.6), (28.0, 0.1), (28.3, 0.6), (31.0, 0.6), (31.3, 0.05), (31.7, 0.1), (32.1, 0.0),
                 (32.5, 0.6), (34.5, 0.6), (34.9, 0.05), (35.3, 0.6), (36.2, 0.0), (36.6, 0.1), (37.0, 0.6),
                 (37.5, 0.05), (37.9, 0.6), (47.0, 0.6), (47.3, 0.05), (47.7, 0.1), (48.1, 0.6), (50.0, 0.6),
                 (50.4, 0.05), (50.8, 0.6), (51.5, 0.0), (51.9, 0.6), (52.5, 0.1), (52.9, 0.6), (54.0, 0.1),
                 (54.4, 0.6), (55.3, 0.0), (55.7, 0.6), (57.5, 0.6), (57.9, 0.05), (58.3, 0.6), (59.2, 0.0),
                 (59.6, 0.1), (60.0, 0.05), (60.4, 0.6), (61.0, 0.0), (61.4, 0.1), (61.8, 0.05), (62.2, 0.1),
                 (62.6, 0.0), (63.0, 0.1), (63.4, 0.05), (63.8, 0.1), (64.2, 0.0), (64.6, 0.1), (65.0, 0.05),
                 (65.4, 0.1), (65.8, 0.0), (66.2, 0.6), (67.0, 0.6), (67.4, 0.05), (67.8, 0.1), (68.2, 0.0),
                 (68.6, 0.1), (69.0, 0.05), (69.4, 0.6), (70.5, 0.6), (70.9, 0.0), (71.3, 0.1), (71.7, 0.6),
                 (73.5, 0.6), (73.9, 0.05), (74.3, 0.6), (75.0, 0.0), (75.4, 0.6), (78.0, 0.6), (78.4, 0.0),
                 (78.8, 0.6), (79.3, -0.05), (79.7, 0.6), (84.0, 0.6), (84.4, 0.05), (84.8, 0.6), (90.0, 0.6),
                 (90.4, 0.05), (90.8, -0.2), (91.2, 0.0), (91.6, -0.05), (92.0, 0.05), (92.5, -0.05), (93.0, 0.0),
                 (93.5, -0.05), (94.0, 0.0), (94.5, -0.05), (95.0, 0.0), (95.9, -0.05)]

# Psychotria velloziana
dry_psyc_green = [(0.5, 1.8), (1.6, 1.2), (3.4, 1.2), (5.5, 1.1), (7.3, 0.8), (8.4, 1.5), (9.2, 16), (13.0, 16), (13.4, 9),
                  (14.4, 7.0), (15.5, 5.0), (16.2, 2.5), (16.9, 1.5), (17.6, 2.5), (19.1, 2.3), (20.5, 2.3),
                  (21.9, 1.5), (23.7, 1.8), (25.5, 2.4), (27.6, 2.0), (29.8, 1.8), (31.9, 1.9), (32.6, 2.0),
                  (33.4, 5.4), (34.4, 5.4), (35.1, 5.0), (36.2, 7.7), (37.3, 5.0), (38.4, 2.5), (39.8, 2.5),
                  (41.6, 1.6), (42.3, 0.0), (44.8, 0.0), (48.4, 0.0), (51.2, 0.0), (54.1, 0.0), (56.2, -0.6),
                  (56.9, 2.5), (57.3, 16), (72, 16)]
dry_psyc_red = [(0.5, 0.4), (4.1, 0.0), (7.3, 0.0), (8.4, 1.0), (9.2, 9.0), (9.8, 8.0), (10.9, 6.5), (11.6, 6.0),
                (12.3, 5.5), (13.0, 4.0), (14.1, 3.5), (14.8, 2.5), (15.5, 2.0), (16.2, 3.0), (16.9, 1.0), (18.4, 0.0),
                (19.8, -1.0), (21.6, -2.0), (22.6, -1.2), (25.5, -1.0), (29.1, -1.2), (32.6, -0.5), (34.1, 0.5),
                (36.2, 1.5), (36.9, 1.0), (38.4, 0.5), (39.8, -0.5), (42.6, -1.3), (45.5, -0.8), (48.4, -0.6),
                (51.2, -0.3), (54.1, -0.4), (56.6, -0.3), (57.3, 3.0), (57.8, 16), (58.4, 6.0), (59.8, 2.0),
                (60.5, 4.0), (61.2, 16), (62.6, 16), (63.4, 10), (64.1, 16), (65.5, 16), (66.2, 8.0), (67.3, 16),
                (68.0, 10), (69.1, 9.0), (69.8, 6.0), (70.9, 7.0), (71.6, 6.5), (72, 7.5)]
dry_psyc_blue = [(0, -1.5), (1.2, -1.2), (3.4, -1.5), (5.5, -1.2), (7.6, -1.0), (8.7, -0.5), (9.8, 1.0), (10.9, 2.0),
                 (11.6, 0.5), (12.6, 0.0), (14.1, -0.5), (15.5, -1.0), (16.9, -1.5), (18.4, -1.2), (19.8, -1.0),
                 (21.6, -1.3), (22.6, -1.0), (25.5, -0.9), (29.1, -0.8), (32.6, -0.6), (36.2, -0.5), (39.8, -0.3),
                 (41.9, -0.1), (45.5, -0.3), (49.8, -0.2), (54.1, -0.1), (56.9, -0.5), (57.6, 2.0), (58.4, 7.0),
                 (59.4, 4.0), (60.1, 2.5), (61.2, 6.0), (62.3, 12.5), (63.0, 9.0), (63.7, 5.0), (64.8, 3.5),
                 (65.9, 2.0), (66.9, 6.5), (68.0, 4.0), (69.1, 2.0), (70.1, 3.5), (71.2, 2.5), (72, 1.5)]
dry_psyc_black = [(0.5, 0.2), (4.1, 0.1), (7.3, -0.2), (8.4, 0.5), (9.4, 2.0), (10.5, 3.7), (11.2, 3.2), (11.9, 2.5),
                  (12.6, 2.0), (13.4, 2.5), (14.1, 1.0), (15.5, 0.5), (17.6, -0.5), (19.8, -1.0), (22.6, -1.2),
                  (25.5, -1.0), (29.1, -0.8), (32.6, -0.4), (34.8, 1.0), (36.2, 2.3), (36.9, 1.5), (38.4, 1.8),
                  (39.8, 1.0), (41.9, 0.0), (45.5, -0.4), (48.4, 0.0), (51.2, -0.2), (54.1, -0.1), (56.9, 0.0),
                  (58.0, 4.0), (58.7, 3.5), (59.4, 2.5), (60.1, 2.3), (60.9, 6.5), (61.9, 12.5), (62.6, 11),
                  (63.7, 6.0), (64.8, 4.5), (65.5, 6.5), (66.6, 5.5), (67.6, 4.0), (68.7, 5.5), (69.8, 3.5),
                  (70.9, 4.5), (72, 5.5)]
wet_psyc_blue = [(0, 0.5), (0.9, -0.2), (1.8, -0.6), (2.8, 0.0), (3.7, 0.2), (5.6, 0.4), (7.5, 1.0), (9.0, 0.5),
                 (10.4, 0.8), (11.8, 1.5), (12.5, 5), (13.0, 10), (13.7, 6.0), (15.1, 4.5), (16.1, 4.0), (16.6, 10),
                 (17.5, 10), (18.0, 1.0), (19.0, -1.0), (20.4, -1.8), (21.8, -1.0), (23.2, -0.5), (24.7, -1.0),
                 (26.1, -1.5), (27.0, -2.0), (28.5, -1.0), (29.9, -0.5), (31.3, -0.5), (33.2, -0.2), (35.1, -0.4),
                 (36.6, 0.0), (38.0, -0.8), (39.9, -0.3), (41.8, 0.2), (43.2, 0.5), (44.7, 1.0), (46.1, 1.8),
                 (48.5, 1.5), (50.4, 1.8), (51.8, 3.5), (52.8, 2.5), (54.2, 2.0), (55.1, 3.0), (56.6, 2.5),
                 (58.0, 2.0), (59.9, 1.5), (61.8, 1.8), (63.7, 1.2), (65.6, 1.5), (67.5, 0.8), (69.4, 0.5),
                 (71.3, 0.4), (72.8, -0.5), (74.7, -0.2), (76.1, -0.4), (78.0, -0.6), (79.9, -1.0), (80.9, 0.5),
                 (82.3, 1.5), (83.2, 2.5), (84.2, 10), (90.4, 10), (91.3, 4.0), (92.8, 0.0), (94.2, -0.8),
                 (95.6, -0.9)]
wet_psyc_green = [(0, 0.8), (1.3, 0.5), (2.8, 0.2), (4.2, 0.7), (5.4, -0.8), (6.6, 0.3), (8.0, 0.7), (9.4, 0.5),
                  (10.9, 1.5), (11.8, 1.0), (12.8, 4.5), (13.2, 5.0), (13.7, 1.0), (14.5, 2.0), (15.1, 0.5),
                  (16.1, 1.0), (16.9, 4.0), (17.5, 2.0), (18.5, 1.0), (19.9, 0.5), (21.8, 0.8), (23.7, 1.5),
                  (25.6, 1.2), (27.5, 1.0), (29.4, 1.5), (31.3, 1.0), (31.8, -2.8), (32.8, 0.8), (34.2, 1.0),
                  (35.6, 0.0), (37.0, 1.2), (38.5, 1.5), (39.9, 2.0), (41.8, 1.5), (43.7, 1.8), (45.6, 1.5),
                  (47.5, 1.0), (50.4, 1.2), (53.2, 1.0), (56.1, 0.8), (59.0, 1.0), (61.8, 0.8), (63.7, 0.5),
                  (65.6, 0.5), (68.5, 0.5), (70.4, 0.2), (73.2, 0.2), (76.1, 0.0), (78.0, 0.2), (79.9, 0.5),
                  (81.3, 1.0), (82.8, 1.5), (83.7, 3.0), (84.7, 10), (89.9, 10), (90.9, 3.0), (91.8, -1.0),
                  (93.2, -4.0), (94.2, -5.2), (95.1, -4.8), (95.9, -4.5)]
wet_psyc_red = [(0, 1.0), (1.8, 0.8), (3.7, 0.8), (5.6, 0.6), (7.5, 0.7), (9.4, 1.0), (11.3, 1.0), (12.8, 1.5),
                (13.4, 2.5), (14.2, 1.0), (15.1, 2.5), (16.1, 1.5), (17.5, 1.8), (19.0, 1.5), (20.9, 1.2), (22.8, 1.0),
                (24.7, 1.5), (26.6, 1.3), (28.5, 1.5), (30.4, 1.5), (32.3, 1.6), (34.2, 1.5), (36.1, 1.8),
                (38.0, 2.0), (39.9, 1.8), (41.8, 1.8), (43.7, 1.8), (45.6, 2.0), (47.5, 1.9), (49.4, 2.0),
                (51.3, 1.8), (53.2, 2.0), (55.1, 2.0), (57.0, 2.2), (59.0, 1.8), (60.9, 2.0), (62.8, 2.2),
                (64.7, 2.5), (66.6, 2.2), (68.5, 2.0), (70.4, 2.0), (72.3, 2.2), (74.2, 1.8), (76.1, 2.0),
                (78.0, 1.8), (79.9, 2.0), (81.8, 2.5), (83.2, 3.0), (84.2, 3.5), (85.1, 10), (89.4, 10),
                (90.4, 5.0), (91.3, 3.0), (92.3, 2.0), (93.2, 1.5), (94.2, 2.0), (95.1, 1.5), (95.9, 1.8)]

# Symplocus falcata
dry_symp_green = [(0, 0.4), (4.1, 0.3), (8.4, 0.2), (11.2, 0.4), (13.4, 0.3), (18.4, 0.3), (25.5, 0.2), (32.6, 0.4),
                  (36.2, 0.7), (38.4, 0.4), (42.6, 0.2), (46.9, 0.2), (51.2, 0.2), (55.5, 0.2), (57.3, 0.4),
                  (58.4, 1.5), (59.4, 0.8), (61.2, 1.0), (62.3, 2.2), (63.4, 1.5), (65.5, 1.0), (68.4, 0.8),
                  (70.5, 0.5), (72, 0.5)]
dry_symp_blue = [(0, 0.5), (1.9, 0.3), (4.1, 0.4), (6.2, 0.3), (8.4, 0.5), (9.2, 2.5), (9.8, 3.7), (10.9, 3.2),
                 (11.6, 3.0), (12.3, 2.5), (13.0, 1.5), (14.1, 0.5), (16.2, 0.2), (18.4, 0.5), (21.2, 0.1),
                 (24.1, 0.3), (26.9, 0.1), (29.8, 0.2), (32.6, 0.5), (33.4, 1.0), (34.4, 0.7), (35.5, 0.3),
                 (38.4, 0.1), (41.2, 0.0), (44.1, 0.2), (46.9, 0.1), (49.8, 0.2), (52.6, 0.1), (55.5, 0.2),
                 (56.9, 0.1), (57.3, 2.0), (57.6, 8.0), (60.1, 8.0), (60.5, 4.0), (61.2, 2.0), (62.3, 2.5),
                 (63.0, 8.0), (63.7, 8.0), (64.4, 3.0), (65.5, 2.8), (66.6, 4.0), (67.6, 2.8), (68.7, 3.0),
                 (69.8, 2.0), (70.9, 1.5), (71.6, 1.0), (72, 1.8)]
dry_symp_red = [(0, -1.5), (1.2, -2.0), (2.6, -1.5), (4.1, -1.8), (5.5, -1.8), (6.9, -2.0), (8.7, -2.0), (9.4, -0.5),
                (10.1, 0.5), (10.9, 2.8), (11.4, 1.8), (11.9, 2.8), (12.6, 0.5), (13.4, -1.0), (14.8, -1.5),
                (16.2, -1.5), (18.4, -2.0), (20.5, -2.0), (22.6, -2.3), (24.8, -2.2), (26.9, -1.5), (29.1, -1.8),
                (31.2, -1.8), (32.6, -1.5), (33.4, 0.0), (34.4, 0.5), (35.5, 1.0), (36.4, 3.6), (37.3, 1.0),
                (38.4, 0.5), (39.1, -0.5), (39.8, 1.2), (40.9, -0.5), (42.3, -1.5), (43.4, -1.0), (45.5, -0.8),
                (48.4, -0.6), (51.2, -0.5), (54.1, -0.5), (56.2, -0.4), (56.9, -0.8), (57.5, 2.0), (58.0, 8.0),
                (60.5, 8.0), (61.2, 5.0), (62.6, 8.0), (65.1, 8.0), (65.9, 4.0), (66.6, 8.0), (68.4, 8.0),
                (69.1, 5.5), (70.1, 3.5), (71.2, 3.8), (72, 3.0)]
wet_symp_blue = [(0, 0.2), (0.7, 0.5), (1.3, -0.5), (2.0, 0.3), (2.8, -0.2), (3.7, 0.2), (4.7, -0.1), (5.6, 0.3),
                 (6.6, 0.0), (7.5, 0.2), (8.5, -0.1), (9.4, 0.2), (10.4, 0.0), (11.3, 0.5), (11.8, 0.3), (12.3, 3.0),
                 (13.7, 3.0), (14.4, -0.4), (15.1, 3.0), (16.1, 1.5), (17.0, 3.0), (18.0, 0.5), (19.0, -0.4),
                 (20.4, 0.0), (21.8, 0.4), (23.2, 0.2), (24.7, 0.5), (26.1, 0.0), (27.5, 0.2), (29.0, -0.3),
                 (30.4, 0.2), (32.3, 0.3), (34.2, 0.0), (36.1, 0.2), (37.0, -0.3), (38.5, 0.3), (39.9, -0.2),
                 (41.8, 0.1), (43.7, -0.2), (45.6, 0.0), (47.5, -0.1), (49.4, 0.1), (51.3, -0.2), (52.8, -0.5),
                 (54.2, 0.0), (56.1, 0.1), (58.0, -0.2), (59.9, 0.0), (61.3, 0.2), (62.8, -0.1), (64.7, 0.0),
                 (66.6, -0.1), (68.5, -0.3), (70.4, 0.0), (72.3, -0.1), (74.2, 0.0), (76.1, -0.3), (78.0, -0.3),
                 (79.4, -0.2), (80.9, 0.3), (82.3, 0.5), (83.2, 0.6), (84.2, 3.0), (89.9, 3.0), (90.9, 0.5),
                 (92.3, -0.1), (93.2, -0.3), (94.2, -0.4), (95.1, -0.5), (95.6, -0.7), (95.9, -0.2)]

# Tabebuia vellosoi
dry_tabe_blue = [(0, 0.05), (0.7, 0.15), (1.4, 0.0), (2.1, 0.15), (2.8, 0.05), (3.5, 0.2), (4.2, -0.05), (4.9, 0.15),
                 (5.6, 0.0), (6.3, 0.1), (7.0, -0.05), (7.7, 0.15), (8.4, 0.0), (9.1, 0.1), (9.6, -0.45), (10.1, 0.1),
                 (10.8, -0.05), (11.5, 0.15), (12.2, -0.1), (12.9, 0.1), (13.6, 0.2), (14.3, -0.05), (15.0, 0.15),
                 (15.7, -0.1), (16.4, 0.15), (17.1, 0.0), (17.8, 0.2), (18.5, 0.05), (19.2, 0.2), (19.9, 0.0),
                 (20.6, 0.15), (21.3, -0.05), (22.0, 0.1), (22.7, 0.0), (23.4, -0.15), (24.1, 0.1), (24.8, 0.2),
                 (25.5, 0.05), (26.2, 0.15), (26.9, 0.0), (27.6, 0.2), (28.3, 0.05), (29.0, 0.15), (29.7, -0.05),
                 (30.4, 0.2), (31.1, 0.05), (31.8, 0.1), (32.5, 0.0), (33.2, 0.2), (33.9, 0.05), (34.6, 0.15),
                 (35.3, 0.0), (36.0, 0.2), (36.7, 0.1), (37.4, 0.15), (38.1, 0.0), (38.8, 0.2), (39.5, 0.1),
                 (40.2, 0.15), (40.9, 0.05), (41.6, 0.2), (42.3, 0.1), (43.0, 0.15), (43.7, 0.0), (44.4, 0.2),
                 (45.1, 0.1), (45.8, 0.15), (46.5, 0.05), (47.2, 0.2), (47.9, 0.0), (48.6, 0.15), (49.3, 0.1),
                 (50.0, 0.2), (50.7, 0.05), (51.4, 0.15), (52.1, 0.0), (52.8, 0.2), (53.5, 0.1), (54.2, 0.15),
                 (54.9, 0.05), (55.6, 0.2), (56.3, 0.0), (57.0, 0.1), (57.5, 0.5), (58.4, 0.5), (58.7, -0.1),
                 (59.1, 0.5), (62.5, 0.5), (62.8, 0.0), (63.2, 0.5), (64.4, 0.5), (64.8, -0.05), (65.2, 0.1),
                 (65.6, 0.5), (66.6, 0.5), (67.0, 0.0), (67.4, -0.1), (67.8, 0.5), (69.8, 0.5), (70.1, 0.0),
                 (70.5, -0.1), (70.9, 0.5), (72, 0.5)]
dry_tabe_green = [(0, 0.3), (1.5, 0.2), (3, 0.25), (5, 0.15), (7, 0.3), (9, 0.2), (11, 0.3), (13, 0.15), (15, 0.25),
                  (17, 0.3), (19, 0.2), (21, 0.15), (23, 0.25), (25, 0.2), (27, 0.1), (29, 0.25), (31, 0.2), (33, 0.3),
                  (35, 0.1), (37, 0.25), (39, 0.3), (41, 0.25), (43, 0.3), (45, 0.2), (47, 0.3), (49, 0.25),
                  (51, 0.15), (53, 0.3), (55, 0.25), (57, 0.2), (57.5, 0.5), (72, 0.5)]
wet_tabe_blue = [(0, 0.0), (1.8, 0.0), (3.7, 0.5), (5.6, 0.3), (7.5, 0.8), (9.4, 0.3), (11.3, 0.8), (11.8, 1.0),
                 (12.5, 2.5), (13.2, 3.5), (13.7, 1.0), (14.4, 2.0), (15.1, 1.5), (16.1, 2.0), (17.0, 3.0), (18.0, 0.5),
                 (19.0, 0.3), (20.9, 0.5), (22.8, 0.3), (24.7, 0.5), (26.6, 0.2), (28.5, 0.5), (30.4, 0.3),
                 (32.3, 0.5), (36.1, 0.5), (39.9, 0.3), (43.7, 0.5), (47.5, 0.3), (51.3, 0.5), (55.1, 0.4),
                 (59.0, 0.3), (62.8, 0.5), (66.6, 0.4), (70.4, 0.3), (74.2, 0.4), (78.0, 0.3), (79.9, 0.5),
                 (81.3, 1.0), (82.8, 2.0), (84.2, 6.0), (90.4, 6.0), (91.3, 1.5), (92.3, 0.5), (94.2, 0.4),
                 (95.9, 0.4)]
wet_tabe_green = [(0, 0.3), (0.7, 0.5), (1.3, 0.0), (2.0, 1.0), (2.8, -0.5), (3.7, 0.5), (4.7, -0.3), (5.6, 0.0),
                  (6.6, -0.6), (7.5, 0.8), (8.5, -0.5), (9.4, 0.5), (10.9, 0.0), (11.3, 1.0), (11.8, 0.5), (12.3, 6),
                  (12.8, 6), (13.2, 0.5), (14.2, 6), (15.1, 6), (16.1, 2.0), (16.6, 6), (17.0, 2.0), (18.0, 0.0),
                  (19.4, -0.5), (20.9, -0.8), (22.8, -0.3), (24.7, -1.0), (26.6, -0.8), (27.0, -1.5), (28.5, -0.5),
                  (30.4, -1.2), (32.3, -1.0), (34.2, -0.8), (36.1, -1.3), (38.0, -0.8), (39.9, -1.2), (41.8, -1.5),
                  (43.7, -0.8), (45.6, -1.2), (47.5, -1.5), (48.5, -2.5), (50.4, -1.5), (52.3, -1.0), (54.2, -1.5),
                  (56.1, -0.8), (58.0, -1.2), (59.9, -2.0), (61.8, -1.0), (63.7, -1.5), (65.6, -2.0), (67.5, -1.5),
                  (69.4, -1.0), (71.3, -1.5), (73.2, -1.2), (75.1, -1.0), (77.0, -1.5), (79.0, -1.0), (80.4, -1.8),
                  (81.3, 0.0), (82.3, 1.5), (83.2, 2.5), (84.2, 6), (89.4, 6), (90.9, 1.5), (92.3, 0.5), (93.2, 0.0),
                  (94.2, -0.5), (95.1, -0.3), (95.9, 0.0)]

# Weimania organensis
dry_weim_blue = [(0, -0.8), (1.2, -0.7), (3.4, -1.2), (5.5, -1.0), (6.9, -1.3), (8.0, -1.8), (8.7, -0.5), (9.2, 1.5),
                 (9.8, 12), (10.9, 12), (11.2, 2.5), (11.9, 1.5), (12.6, 1.2), (13.4, 0.5), (14.8, -0.2), (16.2, -0.5),
                 (17.6, -1.0), (19.8, -0.8), (21.2, -1.5), (22.6, -1.6), (25.5, -1.3), (28.4, -1.0), (31.2, -1.3),
                 (32.3, -2.3), (33.0, -0.2), (34.1, 1.8), (35.1, 2.0), (35.9, 4.5), (36.2, 6.0), (36.9, 4.0),
                 (38.0, 3.0), (38.7, 2.0), (39.4, 3.0), (40.5, 2.0), (41.9, 0.5), (43.4, -0.8), (45.5, -0.8),
                 (47.6, -1.2), (49.8, -1.0), (51.9, -1.2), (54.1, -1.0), (55.5, -0.5), (56.6, -1.0), (57.3, -0.5),
                 (57.6, 12), (72, 12)]
dry_weim_green = [(0.5, 0.6), (2.6, 0.5), (5.5, 0.6), (7.6, 0.8), (8.7, 1.5), (9.4, 5.0), (10.1, 7.0), (10.9, 8.2),
                  (11.2, 7.5), (11.6, 6.0), (12.0, 7.5), (12.6, 5.5), (13.4, 3.0), (14.1, 2.0), (14.4, 2.8),
                  (15.1, 0.8), (16.2, 0.2), (18.4, 0.2), (20.5, 0.3), (22.6, -0.2), (25.5, 0.0), (28.4, 0.1),
                  (31.2, -0.1), (32.6, 0.2), (33.4, 2.0), (34.1, 2.5), (35.1, 3.5), (35.9, 7.0), (36.6, 6.8),
                  (37.3, 5.0), (38.4, 4.0), (39.4, 3.5), (40.5, 2.0), (41.9, 1.0), (43.4, 0.3), (45.5, -0.3),
                  (48.4, -0.4), (51.2, -0.2), (54.1, -0.3), (55.5, 0.0), (56.6, -0.3), (57.3, 0.0), (58.0, 0.0),
                  (58.7, 4.5), (59.4, 2.8), (60.1, 3.3), (60.6, 2.8), (61.2, 12), (64.4, 12), (65.1, 5.0), (65.9, 2.2),
                  (66.6, 5.0), (67.3, 12), (69.4, 12), (69.8, 5.8), (70.5, 7.0), (71.2, 6.0), (72, 12)]
wet_weim_red = [(0, 0.5), (1.8, 0.0), (3.7, 0.0), (6.6, -0.5), (9.4, -0.5), (11.8, -0.2), (12.8, 2.0), (13.2, 3.5),
                (13.7, -0.5), (14.7, 2.0), (15.6, 0.5), (16.6, 3.0), (17.5, 1.0), (19.0, 0.0), (22.8, -0.2),
                (26.6, -0.2), (30.4, -0.5), (34.2, -0.3), (37.0, -0.2), (41.8, 0.0), (46.6, 0.5), (51.3, 0.8),
                (56.1, 1.0), (60.9, 1.2), (65.6, 1.2), (70.4, 1.3), (75.1, 1.5), (78.0, 1.5), (79.9, 1.8), (81.8, 2.0),
                (83.2, 2.5), (84.2, 4.0), (85.1, 14), (90.4, 14), (91.3, 5.0), (92.3, 2.5), (94.2, 2.0), (95.9, 1.5)]
wet_weim_green = [(0, 0.3), (1.8, 0.0), (3.7, -0.3), (6.6, -0.5), (9.4, -0.3), (11.8, 0.0), (12.8, 2.0), (13.2, 2.0),
                  (13.7, -0.5), (14.7, 1.5), (15.6, 0.0), (16.6, 2.0), (17.5, 0.5), (19.0, 0.0), (22.8, -0.3),
                  (28.5, -0.3), (34.2, 0.0), (39.9, 0.0), (45.6, 0.2), (51.3, 0.3), (57.0, 0.3), (62.8, 0.4),
                  (68.5, 0.5), (74.2, 0.5), (79.0, 0.5), (80.9, 1.0), (82.8, 1.5), (84.2, 2.5), (85.1, 5.0),
                  (85.8, 6.5), (86.6, 5.0), (87.5, 5.5), (88.5, 4.0), (89.4, 3.5), (90.4, 3.0), (91.3, 2.0),
                  (93.2, 1.0), (95.9, 0.8)]
wet_weim_blue = [(0, 0.0), (0.7, -2.0), (1.8, -3.0), (3.7, -3.2), (5.6, -3.5), (6.1, -4.5), (7.5, -4.0), (9.0, -4.3),
                 (10.4, -4.2), (11.8, -5.0), (12.3, -2.0), (12.8, 0.0), (13.2, 12), (13.7, 1.0), (14.4, -2.5),
                 (15.1, 0.0), (16.1, 1.0), (17.0, 7.0), (17.8, 2.0), (18.5, -2.5), (19.9, -3.0), (21.8, -2.5),
                 (23.2, -2.0), (24.7, -3.0), (27.0, -3.5), (30.4, -4.5), (32.3, -3.5), (36.1, -4.0), (39.9, -3.5),
                 (43.7, -3.5), (47.5, -3.8), (51.3, -3.5), (56.1, -3.5), (59.0, -4.2), (60.9, -3.0), (65.6, -2.8),
                 (70.4, -3.0), (75.1, -3.0), (79.9, -3.2), (80.9, -2.5), (82.8, -1.5), (83.7, 0.0), (84.2, 14),
                 (90.4, 14), (91.3, 1.0), (92.8, -1.5), (93.7, -2.2), (95.1, -2.0), (95.9, -2.2)]
wet_weim_black = [(0, 0.3), (0.9, -0.5), (1.8, -0.5), (3.7, -0.8), (6.6, -1.0), (9.4, -0.8), (11.8, -0.5), (12.5, 1.0),
                  (13.2, 12), (13.7, -0.5), (14.5, 2.0), (15.1, 0.5), (15.9, 4.0), (16.6, 1.5), (17.5, 1.0),
                  (18.5, -0.5), (20.9, -0.5), (24.7, -1.0), (28.5, -1.5), (32.3, -1.3), (36.1, -1.5), (37.0, -0.5),
                  (38.0, -2.0), (41.8, -2.0), (45.6, -2.2), (49.4, -1.8), (53.2, -2.0), (57.0, -1.8), (60.9, -1.5),
                  (61.8, -0.5), (62.8, -1.5), (65.6, -1.0), (66.6, -2.0), (70.4, -1.8), (75.1, -2.0), (78.9, -2.2),
                  (80.9, -1.5), (82.8, -1.0), (84.2, 0.0), (84.7, 14), (89.9, 14), (90.9, 2.0), (91.8, -1.0),
                  (93.2, -2.0), (94.7, -2.5), (95.9, -2.5)]

dry_panels = [
    dict(lines=[(dry_vpd, RED)], ylim=(-0.022, 0.576), ticks=[0, 0.1, 0.2, 0.3, 0.4, 0.5], lab=[0, 0.3], fmt='{:.1f}',
         ylabel='VPD (kPa)', title='Dry season fog\u2212rain period'),
    dict(lines=[(dry_rain, BLUE)], ylim=(-0.072, 1.87), ticks=[0, 0.5, 1.0, 1.5], lab=[0, 1.0], fmt='{:.1f}',
         ylabel='Rain (mm)'),
    dict(lines=[(dry_vis, GREEN)], ylim=(-1.3, 34), ticks=[0, 5, 10, 15, 20, 25, 30], lab=[0, 15, 30], fmt='{:.0f}',
         ylabel='Vis (km)'),
    dict(lines=[(dry_leaf, ORANGE)], ylim=(5, 102.5), ticks=[20, 40, 60, 80, 100], lab=[20, 60], fmt='{:.0f}',
         ylabel='Leaf W. (%)'),
    dict(lines=[(dry_arau_blue, BLUE), (dry_arau_green, GREEN)], ylim=(-3.1, 3.4), ticks=[-3, -2, -1, 0, 1, 2, 3],
         lab=[-3, 0, 2], fmt='{:.0f}', title='Araucaria angustifolia', zero=True),
    dict(lines=[(dry_crot_blue, BLUE), (dry_crot_green, GREEN), (dry_crot_red, RED)], ylim=(-3.6, 8.4),
         ticks=[-2, 0, 2, 4, 6, 8], lab=[-2, 2, 6], fmt='{:.0f}', title='Croton piptocalyx', zero=True),
    dict(lines=[(dry_drim_blue, BLUE), (dry_drim_green, GREEN), (dry_drim_red, RED)], ylim=(-4.0, 1.6),
         ticks=[-4, -3, -2, -1, 0, 1], lab=[-4, -1, 1], fmt='{:.0f}', title='Drimys brasiliensis', zero=True),
    dict(lines=[(dry_macr_green, GREEN), (dry_macr_blue, BLUE), (dry_macr_red, RED), (dry_macr_black, BLACK)],
         ylim=(-3.5, 3.7), ticks=[-3, -2, -1, 0, 1, 2, 3], lab=[-3, 0, 2], fmt='{:.0f}',
         title='Macropeplus dentatus', zero=True),
    dict(lines=[(dry_cucu_green, GREEN), (dry_cucu_red, RED)], ylim=(-3.0, 4.2), ticks=[-2, -1, 0, 1, 2, 3],
         lab=[-2, 1, 3], fmt='{:.0f}', title='Myrceugenia cuculata', zero=True),
    dict(lines=[(dry_oval_blue, BLUE), (dry_oval_red, RED), (dry_oval_black, BLACK)], ylim=(-3.2, 6.8),
         ticks=[-2, 0, 2, 4, 6], lab=[-2, 2, 6], fmt='{:.0f}', title='Myrceugenia ovalifolia', zero=True),
    dict(lines=[(dry_ovat_blue, BLUE), (dry_ovat_green, GREEN)], ylim=(-2.27, 0.57),
         ticks=[-2.0, -1.5, -1.0, -0.5, 0, 0.5], lab=[-2.0, -0.5], fmt='{:.1f}', title='Myrceugenia ovata', zero=True),
    dict(lines=[(dry_psyc_green, GREEN), (dry_psyc_red, RED), (dry_psyc_blue, BLUE), (dry_psyc_black, BLACK)],
         ylim=(-5.0, 12.7), ticks=[-5, 0, 5, 10], lab=[-5, 5], fmt='{:.0f}', title='Psychotria velloziana', zero=True),
    dict(lines=[(dry_symp_green, GREEN), (dry_symp_blue, BLUE), (dry_symp_red, RED)], ylim=(-4.9, 5.8),
         ticks=[-4, -2, 0, 2, 4], lab=[-4, 0, 4], fmt='{:.0f}', title='Symplocus falcata', zero=True),
    dict(lines=[(dry_tabe_green, GREEN), (dry_tabe_blue, BLUE)], ylim=(-2.52, 0.27),
         ticks=[-2.5, -2.0, -1.5, -1.0, -0.5, 0], lab=[-2.5, -1.0], fmt='{:.1f}', title='Tabebuia vellosoi', zero=True),
    dict(lines=[(dry_weim_blue, BLUE), (dry_weim_green, GREEN)], ylim=(-4.5, 8.9), ticks=[-4, -2, 0, 2, 4, 6, 8],
         lab=[-4, 2, 6], fmt='{:.0f}', title='Weimania organensis', zero=True),
]

wet_panels = [
    dict(lines=[(wet_vpd, RED)], ylim=(-0.012, 0.313), ticks=[0, 0.05, 0.1, 0.15, 0.2, 0.25, 0.3], lab=[0, 0.2],
         fmt='{:.2f}', ylabel='VPD (kPa)', title='Wet season fog\u2212rain period'),
    dict(lines=[(wet_rain, BLUE)], ylim=(-0.13, 3.5), ticks=[0, 0.5, 1.0, 1.5, 2.0, 2.5, 3.0], lab=[0, 1.5, 3.0],
         fmt='{:.1f}', ylabel='Rain (mm)'),
    dict(lines=[(wet_vis, GREEN)], ylim=(-1.3, 34), ticks=[0, 5, 10, 15, 20, 25, 30], lab=[0, 15, 30], fmt='{:.0f}',
         ylabel='Vis (km)'),
    dict(lines=[(wet_leaf, ORANGE)], ylim=(5, 102.5), ticks=[20, 40, 60, 80, 100], lab=[20, 60, 100], fmt='{:.0f}',
         ylabel='Leaf W. (%)'),
    dict(lines=[(wet_arau_blue, BLUE), (wet_arau_green, GREEN)], ylim=(-6.4, 1.4),
         ticks=[-6, -5, -4, -3, -2, -1, 0, 1], lab=[-6, -3, 0], fmt='{:.0f}', zero=True),
    dict(lines=[(wet_crot_blue, BLUE)], ylim=(-3.3, 1.65), ticks=[-3, -2, -1, 0, 1], lab=[-3, -1, 1], fmt='{:.0f}',
         zero=True),
    dict(lines=[(wet_drim_blue, BLUE), (wet_drim_green, GREEN)], ylim=(-4.0, 0.86), ticks=[-3, -2, -1, 0],
         lab=[-3, -1], fmt='{:.0f}', zero=True),
    dict(lines=[(wet_macr_blue, BLUE), (wet_macr_green, GREEN)], ylim=(-5.1, 4.8), ticks=[-4, -2, 0, 2, 4],
         lab=[-4, 0, 4], fmt='{:.0f}', zero=True),
    dict(lines=[(wet_cucu_blue, BLUE), (wet_cucu_green, GREEN), (wet_cucu_red, RED), (wet_cucu_black, BLACK)],
         ylim=(-4.7, 3.2), ticks=[-4, -3, -2, -1, 0, 1, 2], lab=[-4, -1, 2], fmt='{:.0f}', zero=True),
    dict(lines=[(wet_oval_blue, BLUE)], ylim=(-2.7, 9.2), ticks=[-2, 0, 2, 4, 6, 8], lab=[-2, 2, 6], fmt='{:.0f}',
         zero=True),
    dict(lines=[(wet_ovat_blue, BLUE)], ylim=(-2.27, 0.27), ticks=[-2.0, -1.5, -1.0, -0.5, 0], lab=[-2.0, -0.5],
         fmt='{:.1f}', zero=True),
    dict(lines=[(wet_psyc_blue, BLUE), (wet_psyc_green, GREEN), (wet_psyc_red, RED)], ylim=(-7.4, 7.5),
         ticks=[-6, -4, -2, 0, 2, 4, 6], lab=[-6, 0, 4], fmt='{:.0f}', zero=True),
    dict(lines=[(wet_symp_blue, BLUE)], ylim=(-2.9, 1.85), ticks=[-2, -1, 0, 1], lab=[-2, 0], fmt='{:.0f}', zero=True),
    dict(lines=[(wet_tabe_blue, BLUE), (wet_tabe_green, GREEN)], ylim=(-4.7, 3.9), ticks=[-4, -2, 0, 2], lab=[-4, 0],
         fmt='{:.0f}', zero=True),
    dict(lines=[(wet_weim_red, RED), (wet_weim_green, GREEN), (wet_weim_blue, BLUE), (wet_weim_black, BLACK)],
         ylim=(-7.3, 9.7), ticks=[-5, 0, 5], lab=[-5, 5], fmt='{:.0f}', zero=True),
]

CLOCK = ['00:00', '06:00', '12:00', '18:00']
W, H = 859, 1717


def draw_panel(ax, p, span, last):
    for pts, col in p['lines']:
        arr = np.array(pts, dtype=float)
        ax.plot(arr[:, 0], arr[:, 1], color=col, lw=1.6, solid_joinstyle='round')
    if p.get('zero'):
        ax.axhline(0, color='black', lw=2.3, ls=(0, (4, 1.7)), zorder=5)
    ax.set_xlim(-0.04 * span, 1.04 * span)
    ax.set_ylim(*p['ylim'])

    for s in ['top', 'right']:
        ax.spines[s].set_visible(False)
    ax.spines['left'].set_linewidth(2.3)
    # ticks hang a little below the box line
    ax.spines['bottom'].set_position(('outward', 3))
    ax.spines['bottom'].set_visible(False)
    ax.plot([0, 1], [0, 0], transform=ax.transAxes, color='black', lw=2.3, clip_on=False,
            solid_capstyle='projecting', zorder=6)

    xt = np.arange(0, span + 1, 6)
    ax.set_xticks(xt)
    if last:
        ax.set_xticklabels([CLOCK[i % 4] for i in range(len(xt))], rotation=90, fontsize=10)
    else:
        ax.set_xticklabels([])
    ax.tick_params(axis='x', direction='out', length=3.5, width=1.3, pad=1)

    ax.set_yticks(p['ticks'])
    labels = []
    for t in p['ticks']:
        if any(np.isclose(t, v) for v in p['lab']):
            labels.append(p['fmt'].format(t).replace('-', '\u2212'))
        else:
            labels.append('')
    ax.set_yticklabels(labels, rotation=90, va='center', fontsize=10.5)
    ax.tick_params(axis='y', direction='out', length=3.8, width=1.3, pad=2)

    if 'ylabel' in p:
        ax.set_ylabel(p['ylabel'], fontsize=10.5)
        ax.yaxis.label.set_va('center')
        ax.yaxis.set_label_coords(-32 / 364, 0.5)
    if 'title' in p:
        ax.annotate(p['title'], (0.5, 1.0), xycoords='axes fraction', xytext=(0, 1.0 if 'ylabel' in p else 0),
                    textcoords='offset points', ha='center', va='baseline', fontsize=16.5, zorder=10)


fig = plt.figure(figsize=(W / 100, H / 100), dpi=100)

for col, (panels, x0, span) in enumerate([(dry_panels, 67, 72), (wet_panels, 503, 96)]):
    for i, p in enumerate(panels):
        top = 24 + i * 111.2
        ax = fig.add_axes([x0 / W, 1 - (top + 84.5) / H, 364 / W, 84.5 / H])
        draw_panel(ax, p, span, i == len(panels) - 1)

sap_label = 'Sap flow per area (g cm$^{\\mathregular{-2}}$ h$^{\\mathregular{-1}}$)'
fig.text(24 / W, 1 - 845 / H, sap_label, rotation=90, ha='center', va='center', fontsize=16.5)
fig.text(460 / W, 1 - 845 / H, sap_label, rotation=90, ha='center', va='center', fontsize=16.5)

fig.savefig('out.png', dpi=100)
